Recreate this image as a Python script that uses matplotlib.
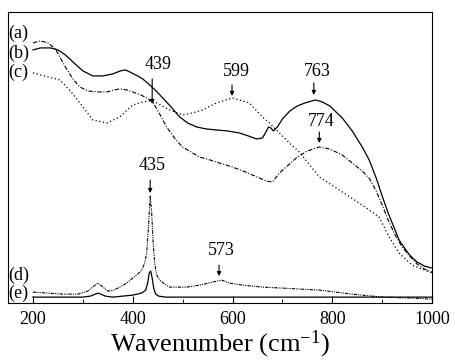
import numpy as np
import matplotlib
matplotlib.use("Agg")
import matplotlib.pyplot as plt

plt.rcParams['font.family'] = ['Liberation Serif', 'DejaVu Serif']
plt.rcParams['mathtext.default'] = 'regular'

# spectra (wavenumber, intensity a.u.)
wn_a = [200, 215, 230, 245, 255, 265, 280, 294, 310, 330, 348, 362, 374, 388, 400, 416,
        428, 440, 455, 468, 485, 500, 520, 534, 555, 574, 600, 626, 654, 668, 680, 694,
        712, 730, 750, 774, 795, 820, 840, 860, 875, 888, 900, 912, 926, 940, 955, 970,
        985, 1000]
int_a = [260, 262, 260, 254, 245, 236, 224, 216, 212, 211, 211, 213, 214, 213, 211, 208,
         205, 201, 188, 176, 164, 156, 150, 146, 143, 140, 136, 131, 125, 122, 121, 130,
         138, 146, 152, 156, 154, 148, 140, 132, 124, 112, 98, 83, 68, 56, 47, 39,
         34, 31]

wn_b = [200, 215, 235, 250, 265, 280, 300, 320, 340, 360, 375, 385, 394, 410, 420, 434,
        447, 460, 477, 494, 510, 528, 548, 568, 590, 614, 632, 648, 660, 667, 672, 677,
        682, 690, 700, 715, 730, 745, 766, 780, 795, 820, 840, 860, 874, 888, 900, 912,
        925, 934, 945, 955, 970, 985, 1000]
int_b = [253, 255, 255, 253, 248, 241, 232, 227, 227, 229, 232, 233, 231, 227, 224, 218,
         212, 205, 196, 186, 180, 176, 174, 173, 172, 170, 167, 164, 165, 171, 176, 175,
         172, 176, 184, 192, 197, 200, 203, 201, 197, 185, 172, 156, 143, 125, 107, 90,
         74, 63, 55, 48, 41, 37, 35]

wn_c = [200, 215, 230, 254, 275, 294, 320, 348, 374, 400, 420, 434, 448, 474, 500, 520,
        540, 568, 600, 634, 660, 674, 694, 714, 734, 774, 814, 854, 894, 914, 934, 960,
        1000]
int_c = [230, 228, 226, 223, 212, 200, 183, 180, 186, 198, 201, 202, 200, 193, 188, 190,
         193, 200, 205, 200, 186, 180, 170, 160, 151, 126, 113, 100, 86, 66, 50, 38,
         30]

wn_d = [200, 230, 260, 290, 310, 322, 330, 338, 350, 362, 374, 388, 400, 410, 418, 424,
        428, 432, 435, 438, 441, 444, 448, 454, 464, 474, 490, 508, 534, 560, 578, 594,
        620, 660, 700, 774, 840, 900, 960, 1000]
int_d = [11, 10, 9, 9, 12, 17, 20, 17, 12, 13, 16, 20, 25, 29, 33, 40,
         50, 80, 107, 90, 60, 40, 28, 23, 19, 16, 16, 16, 18, 21, 23, 20,
         18, 16, 15, 13, 9, 6, 5, 4]

wn_e = [200, 260, 300, 315, 325, 330, 336, 345, 360, 380, 400, 418, 426, 430, 433, 436,
        439, 442, 446, 452, 466, 500, 600, 700, 800, 900, 1000]
int_e = [6, 6, 6, 7, 9, 10, 9, 7, 6, 7, 8, 10, 13, 20, 30, 32,
         25, 15, 9, 7, 6, 6, 6, 6, 6, 6, 6]

# peak labels: text, text x, text y, arrow x, arrow top, arrow tip
pk_txt = ['439', '599', '763', '774', '435', '573']
pk_tx = [450, 608, 770, 778, 438, 578]
pk_ty = [238, 231, 231, 181, 138, 53]
pk_ax = [439, 599, 763, 774, 435, 573]
pk_a0 = [224, 218, 220, 171, 123, 38]
pk_a1 = [199, 207, 208, 160, 110, 27]

curve_lbl = ['(a)', '(b)', '(c)', '(d)', '(e)']
lbl_y = [270, 250, 231, 28, 10]

fig = plt.figure(figsize=(4.55, 3.6), dpi=100)
ax = fig.add_axes([0.0176, 0.158, 0.932, 0.809])

ax.plot(wn_a, int_a, color='k', lw=0.8, ls=(0, (4, 1.5, 1, 1.5)))
ax.plot(wn_b, int_b, color='k', lw=0.9, ls='-')
ax.plot(wn_c, int_c, color='k', lw=0.9, ls=(0, (1, 2)))
ax.plot(wn_d, int_d, color='k', lw=0.8, ls=(0, (3, 1, 1, 1, 1, 1)))
ax.plot(wn_e, int_e, color='k', lw=0.9, ls='-')

for t, tx, ty, axx, a0, a1 in zip(pk_txt, pk_tx, pk_ty, pk_ax, pk_a0, pk_a1):
    ax.text(tx, ty, t, ha='center', va='center', fontsize=13)
    ax.annotate('', xy=(axx, a1), xytext=(axx, a0),
                arrowprops=dict(arrowstyle='-|>', lw=0.8, color='k',
                                mutation_scale=6, shrinkA=0, shrinkB=0))

for t, y in zip(curve_lbl, lbl_y):
    ax.text(151, y, t, ha='left', va='center', fontsize=13)

ax.set_xlim(150, 1000)
ax.set_ylim(0, 291)
ax.set_yticks([])
ax.set_xticks([200, 400, 600, 800, 1000])
ax.set_xticks([300, 500, 700, 900], minor=True)
ax.tick_params(axis='x', which='both', direction='in', labelsize=13, pad=6)
ax.tick_params(axis='x', which='major', length=5)
ax.tick_params(axis='x', which='minor', length=3)
ax.set_xlabel(r'Wavenumber (cm$^{\mathregular{-1}}$)', fontsize=19, labelpad=0)

fig.savefig('out.png', dpi=100)
